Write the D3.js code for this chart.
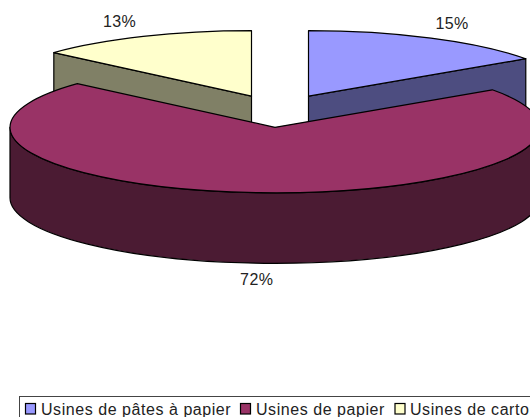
<!DOCTYPE html>
<html>
<head>
<meta charset="utf-8">
<script src="https://cdn.jsdelivr.net/npm/d3@7"></script>
<style>
html, body { margin: 0; padding: 0; background: #fff; overflow: hidden; }
svg { display: block; }
text { font-family: "Liberation Sans", Arial, sans-serif; fill: #222; }
</style>
</head>
<body>
<div id="chart-container"></div>
<script>
//Chart data
const categories = ["Usines de pâtes à papier", "Usines de papier", "Usines de carton"];
const percentLabels = [15, 72, 13];
//slice sizes as measured on the picture, the printed labels are rounded
const shares = [15.3, 71.3, 13.4];
const topColors = ["#9999ff", "#993366", "#ffffcc"];
const sideColors = ["#4d4d80", "#4b1b33", "#808066"];

const width = 530;
const height = 417;

//Projection of the tilted pie
const rx = 265;
const ry = 65.5;
const depth = 70.5;

//Each slice has its own exploded centre
const centers = [[308.5, 96.2], [275, 127.3], [251.5, 96.2]];
const labelPos = [[452, 29], [256.7, 285], [119.5, 27]];
const legendX = [25, 240, 394.5];
const legendTextX = [41, 256, 410];

const svg = d3.select("#chart-container")
    .append("svg")
        .attr("width", width)
        .attr("height", height);

const slices = d3.pie().sort(null).value(d => d)(shares);

//Angle is measured clockwise from the top, same as d3.arc
const px = (c, a) => c[0] + rx * Math.sin(a);
const py = (c, a) => c[1] - ry * Math.cos(a);

function ellipseArc(c, a0, a1, dy, sweep) {
    const large = Math.abs(a1 - a0) > Math.PI ? 1 : 0;
    return `A${rx},${ry} 0 ${large} ${sweep} ${px(c, a1)},${py(c, a1) + dy}`;
}

function radialWall(c, a) {
    return `M${c[0]},${c[1]}L${px(c, a)},${py(c, a)}L${px(c, a)},${py(c, a) + depth}L${c[0]},${c[1] + depth}Z`;
}

function drawSlice(i) {
    const s = slices[i];
    const c = centers[i];
    const g = svg.append("g")
        .attr("stroke", "#000")
        .attr("stroke-width", 1.2)
        .attr("stroke-linejoin", "round");

    if (i === 0) {
        g.append("path")
            .attr("fill", sideColors[i])
            .attr("d", radialWall(c, s.endAngle));
    }
    if (i === 2) {
        g.append("path")
            .attr("fill", sideColors[i])
            .attr("d", radialWall(c, s.startAngle));
    }
    if (i === 1) {
        //outer rim, only the front half of the ellipse shows
        const a0 = Math.PI / 2;
        const a1 = Math.PI * 1.5;
        g.append("path")
            .attr("fill", sideColors[i])
            .attr("d", `M${px(c, a0)},${py(c, a0)}`
                + ellipseArc(c, a0, a1, 0, 1)
                + `L${px(c, a1)},${py(c, a1) + depth}`
                + ellipseArc(c, a1, a0, depth, 0)
                + "Z");
    }

    g.append("path")
        .attr("fill", topColors[i])
        .attr("d", `M${c[0]},${c[1]}L${px(c, s.startAngle)},${py(c, s.startAngle)}`
            + ellipseArc(c, s.startAngle, s.endAngle, 0, 1) + "Z");
}

//Back slices first, the big one sits in front of them
[0, 2, 1].forEach(drawSlice);

//Percent labels
svg.selectAll(".pct")
    .data(percentLabels)
    .join("text")
    .attr("class", "pct")
    .attr("x", (d, i) => labelPos[i][0])
    .attr("y", (d, i) => labelPos[i][1])
    .attr("text-anchor", "middle")
    .style("font-size", "16px")
    .style("letter-spacing", "0.4px")
    .text(d => `${d}%`);

//Legend, runs off the right and bottom of the picture
svg.append("rect")
    .attr("x", 19.5)
    .attr("y", 396.5)
    .attr("width", 530)
    .attr("height", 40)
    .attr("fill", "#fff")
    .attr("stroke", "#444")
    .attr("stroke-width", 1);

const legend = svg.selectAll(".legend-item")
    .data(categories)
    .join("g")
    .attr("class", "legend-item");

legend.append("rect")
    .attr("x", (d, i) => legendX[i] + 0.5)
    .attr("y", 403.5)
    .attr("width", 10)
    .attr("height", 10.5)
    .attr("fill", (d, i) => topColors[i])
    .attr("stroke", "#000")
    .attr("stroke-width", 1.2);

legend.append("text")
    .attr("x", (d, i) => legendTextX[i])
    .attr("y", 415)
    .style("font-size", "16px")
    .style("letter-spacing", "0.55px")
    .text(d => d);
</script>
</body>
</html>
